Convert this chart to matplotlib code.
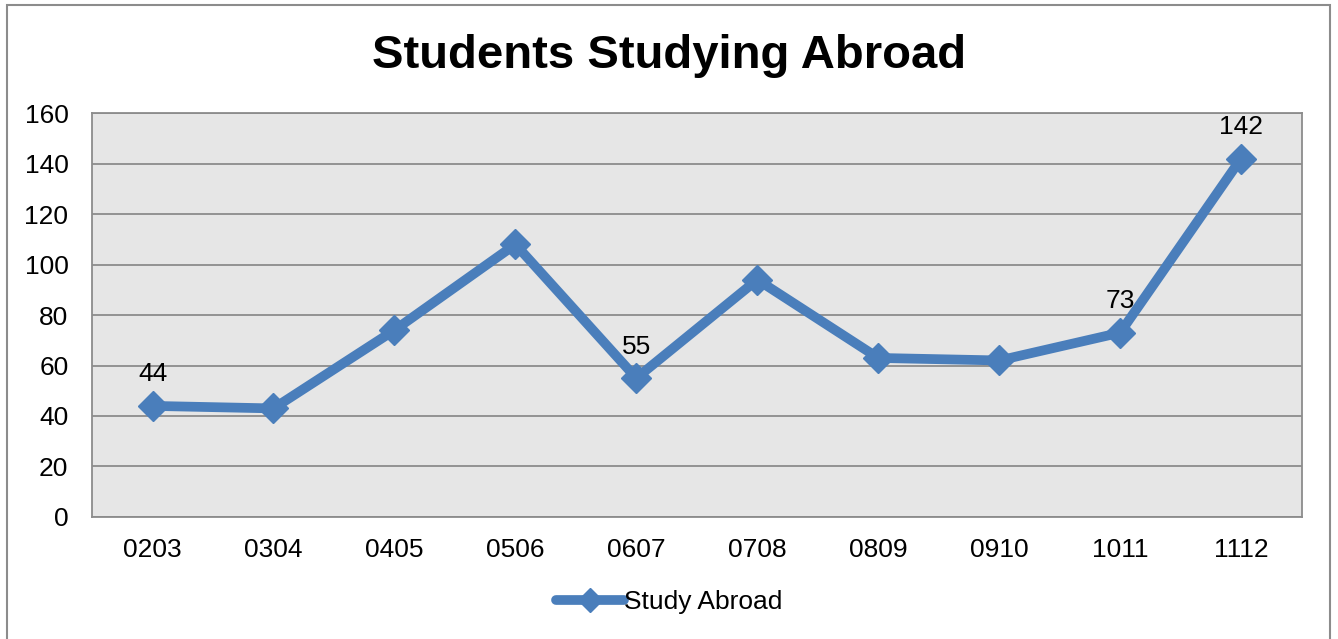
import matplotlib.pyplot as plt
from matplotlib.patches import Rectangle

years = ['0203', '0304', '0405', '0506', '0607', '0708', '0809', '0910', '1011', '1112']
students = [44, 43, 74, 108, 55, 94, 63, 62, 73, 142]
labelled = ['0203', '0607', '1011', '1112']

plt.rcParams['font.family'] = ['Liberation Sans', 'DejaVu Sans']

fig = plt.figure(figsize=(13.38, 6.39), dpi=100)
ax = fig.add_axes([0.0688, 0.191, 0.904, 0.632])

# chart frame
fig.patches.append(Rectangle((7 / 1338, -0.01), 1323 / 1338, 1 - 5 / 639 + 0.01,
                             transform=fig.transFigure, fill=False,
                             edgecolor='#8c8c8c', linewidth=1.5))

ax.set_facecolor('#e6e6e6')
x = list(range(len(years)))
ax.plot(x, students, color='#4a7ebb', linewidth=7, marker='D', markersize=15,
        label='Study Abroad', solid_capstyle='round', zorder=3)

for i, y in enumerate(years):
    if y in labelled:
        ax.annotate(str(students[i]), (i, students[i]), xytext=(0, 14),
                    textcoords='offset points', ha='center', va='bottom',
                    fontsize=19)

ax.set_xlim(-0.5, len(years) - 0.5)
ax.set_ylim(0, 160)
ax.set_yticks(range(0, 161, 20))
ax.set_xticks(x)
ax.set_xticklabels(years)
ax.tick_params(length=0, labelsize=19)
ax.tick_params(axis='y', pad=17)
ax.tick_params(axis='x', pad=15)
ax.grid(axis='y', color='#8c8c8c', linewidth=1.3)
ax.set_axisbelow(True)
for s in ax.spines.values():
    s.set_color('#8c8c8c')
    s.set_linewidth(1.3)

fig.text(0.5, 0.913, 'Students Studying Abroad', ha='center', va='center',
         fontsize=34, fontweight='bold')

fig.legend(loc='center', bbox_to_anchor=(0.5, 0.058), frameon=False,
           fontsize=19, handlelength=2.6, handletextpad=0.0, markerscale=0.8)

fig.savefig('out.png')
